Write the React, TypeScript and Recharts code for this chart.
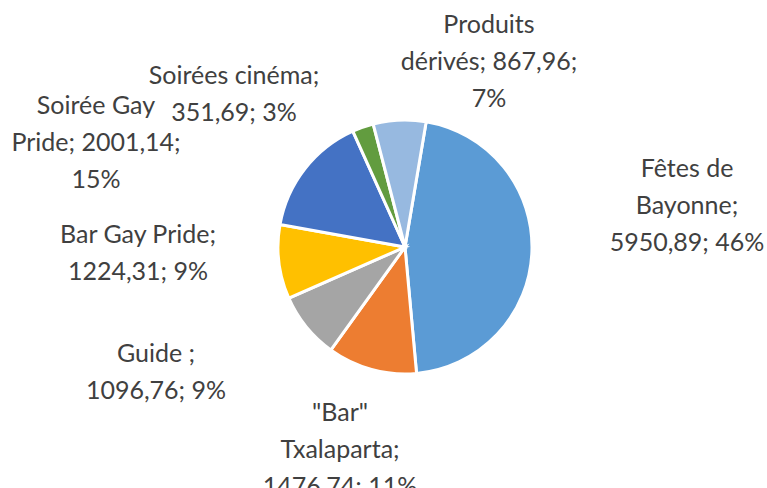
import React from 'react';
import { PieChart, Pie, Cell } from 'recharts';

// slices, clockwise from just right of 12 o'clock
const CATEGORIES = ['Fêtes de Bayonne', '"Bar" Txalaparta', 'Guide ', 'Bar Gay Pride', 'Soirée Gay Pride', 'Soirées cinéma', 'Produits dérivés'];
const VALUES = [5950.89, 1476.74, 1096.76, 1224.31, 2001.14, 351.69, 867.96];
const COLORS = ['#5B9BD5', '#ED7D31', '#A5A5A5', '#FFC000', '#4472C4', '#629C3F', '#97B9E0'];

// words per line for each wrapped label
const LINE_BREAKS = [[2, 1, 2], [1, 1, 2], [2, 2], [3, 2], [2, 2, 1], [2, 2], [1, 2, 1]];
// label block centre, relative to the pie centre
const LABEL_OFFSETS = [[282, -42], [-65, 202], [-249, 125], [-267, 6], [-309, -105], [-171, -153], [84, -186]];

const FONT = 'Lato, "Open Sans", sans-serif';
const FONT_SIZE = 25;
const LINE_HEIGHT = 37;

// percentages rounded so they add up to 100 (like Excel shows them)
function roundedPercents(values) {
  const total = values.reduce((a, b) => a + b, 0);
  const raw = values.map(v => (v / total) * 100);
  const out = raw.map(Math.floor);
  let left = 100 - out.reduce((a, b) => a + b, 0);
  const order = raw.map((r, i) => [r - Math.floor(r), i]).sort((a, b) => b[0] - a[0]);
  for (let k = 0; k < left; k++) out[order[k][1]] += 1;
  return out;
}

const PERCENTS = roundedPercents(VALUES);

const data = CATEGORIES.map((name, i) => ({ name, value: VALUES[i], pct: PERCENTS[i] }));

function labelLines(i) {
  const d = data[i];
  const text = `${d.name}; ${d.value.toFixed(2).replace('.', ',')}; ${d.pct}%`;
  const words = text.split(/\s+/);
  const lines = [];
  let pos = 0;
  LINE_BREAKS[i].forEach(n => {
    lines.push(words.slice(pos, pos + n).join(' '));
    pos += n;
  });
  return lines;
}

const renderLabel = (props) => {
  const { cx, cy, index } = props;
  const lines = labelLines(index);
  const x = cx + LABEL_OFFSETS[index][0];
  const yc = cy + LABEL_OFFSETS[index][1];
  const y0 = yc - ((lines.length - 1) * LINE_HEIGHT) / 2 + FONT_SIZE * 0.35;
  return (
    <text key={`lbl-${index}`} x={x} y={y0} textAnchor="middle" fill="#404040" fontFamily={FONT} fontSize={FONT_SIZE}>
      {lines.map((l, j) => (
        <tspan key={j} x={x} y={y0 + j * LINE_HEIGHT}>{l}</tspan>
      ))}
    </text>
  );
};

export default function App() {
  const startAngle = 90 - 9.6;
  return (
    <div style={{ position: 'absolute', left: 0, top: 0, width: 767, height: 488, overflow: 'hidden', background: '#fff' }}>
      <PieChart width={767} height={488} margin={{ top: 0, right: 0, bottom: 0, left: 0 }}>
        <Pie
          data={data}
          dataKey="value"
          nameKey="name"
          cx={405}
          cy={247}
          outerRadius={127}
          startAngle={startAngle}
          endAngle={startAngle - 360}
          stroke="#ffffff"
          strokeWidth={3}
          label={renderLabel}
          labelLine={false}
          isAnimationActive={false}
        >
          {data.map((entry, idx) => (
            <Cell key={`cell-${idx}`} fill={COLORS[idx]} />
          ))}
        </Pie>
      </PieChart>
    </div>
  );
}
